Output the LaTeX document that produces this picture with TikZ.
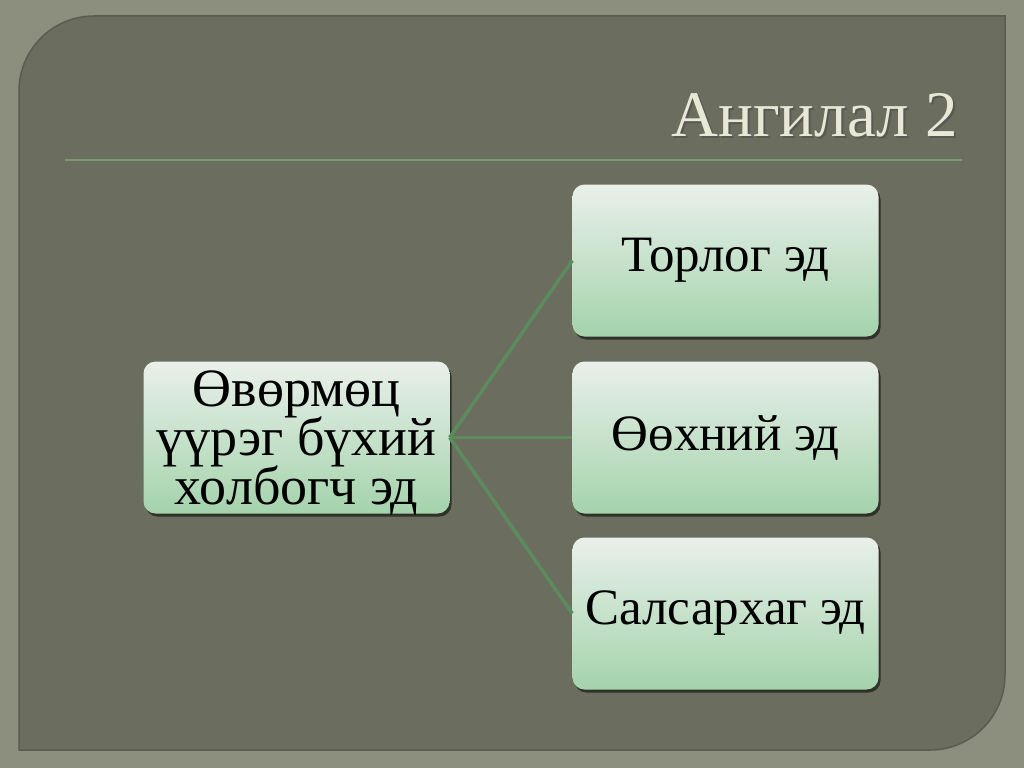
\documentclass[tikz,border=0pt]{standalone}
\usepackage{fontspec}
\setmainfont{Liberation Serif}
\usetikzlibrary{shadows}
\definecolor{outerbg}{HTML}{8C8F7E}
\definecolor{panelbg}{HTML}{6B6D5F}
\definecolor{paneledge}{HTML}{5A5C4F}
\definecolor{rulecol}{HTML}{7D9779}
\definecolor{titlecol}{HTML}{E8E8D6}
\definecolor{linkcol}{HTML}{5C8C5E}
\definecolor{boxtop}{HTML}{E9F0EA}
\definecolor{boxbot}{HTML}{A4D3AC}
\newcommand\boxmainfnt{\fontsize{54}{49}\selectfont\lineskiplimit-60pt\relax\lineskip0pt\relax}
\tikzset{
  itembox/.style={rounded corners=12pt, top color=boxtop, bottom color=boxbot,
    draw=none, minimum width=306pt, minimum height=152pt, inner sep=0pt,
    align=center, font=\fontsize{51}{46}\selectfont, text=black,
    drop shadow={shadow xshift=2pt, shadow yshift=-3pt, opacity=0.55, fill=black}},
  boxtext/.style={inner sep=0pt, align=center, text=black, font=\boxmainfnt},
  link/.style={draw=linkcol, line width=3.5pt}
}
\begin{document}
\begin{tikzpicture}[x=1pt,y=-1pt]
\useasboundingbox (0,0) rectangle (1024,768);
\fill[outerbg] (0,0) rectangle (1024,768);
% panel
\fill[panelbg, draw=paneledge, line width=1.5pt]
  (19,750) -- (19,91) .. controls (19,49.6) and (52.6,16) .. (94,16)
  -- (1005,16) -- (1005,675) .. controls (1005,716.4) and (971.4,750) .. (930,750) -- cycle;
% rule
\draw[rulecol, line width=2pt] (65,160) -- (962,160);
% title
\node[anchor=base east, inner sep=0pt, text=black!70, opacity=0.6,
  font=\fontsize{65}{65}\selectfont] at (960,138) {Ангилал 2};
\node[anchor=base east, inner sep=0pt, text=titlecol,
  font=\fontsize{65}{65}\selectfont] (title) at (958,136) {Ангилал 2};
% boxes
\node[itembox] (main) at (296.5,437.5) {};
\node[boxtext] (maintext) at (296.5,442.5) {Өвөрмөц\\үүрэг бүхий\\холбогч эд};
\node[itembox] (r1) at (725.5,260.5) {\raisebox{-5pt}{Торлог эд}};
\node[itembox] (r2) at (725.5,437.5) {\raisebox{-4pt}{Өөхний эд}};
\node[itembox] (r3) at (725.5,613.5) {\raisebox{-5pt}{Салсархаг эд}};
% links
\draw[link] (main.east) -- (r1.west);
\draw[link] (main.east) -- (r2.west);
\draw[link] (main.east) -- (r3.west);
\end{tikzpicture}
\end{document}
